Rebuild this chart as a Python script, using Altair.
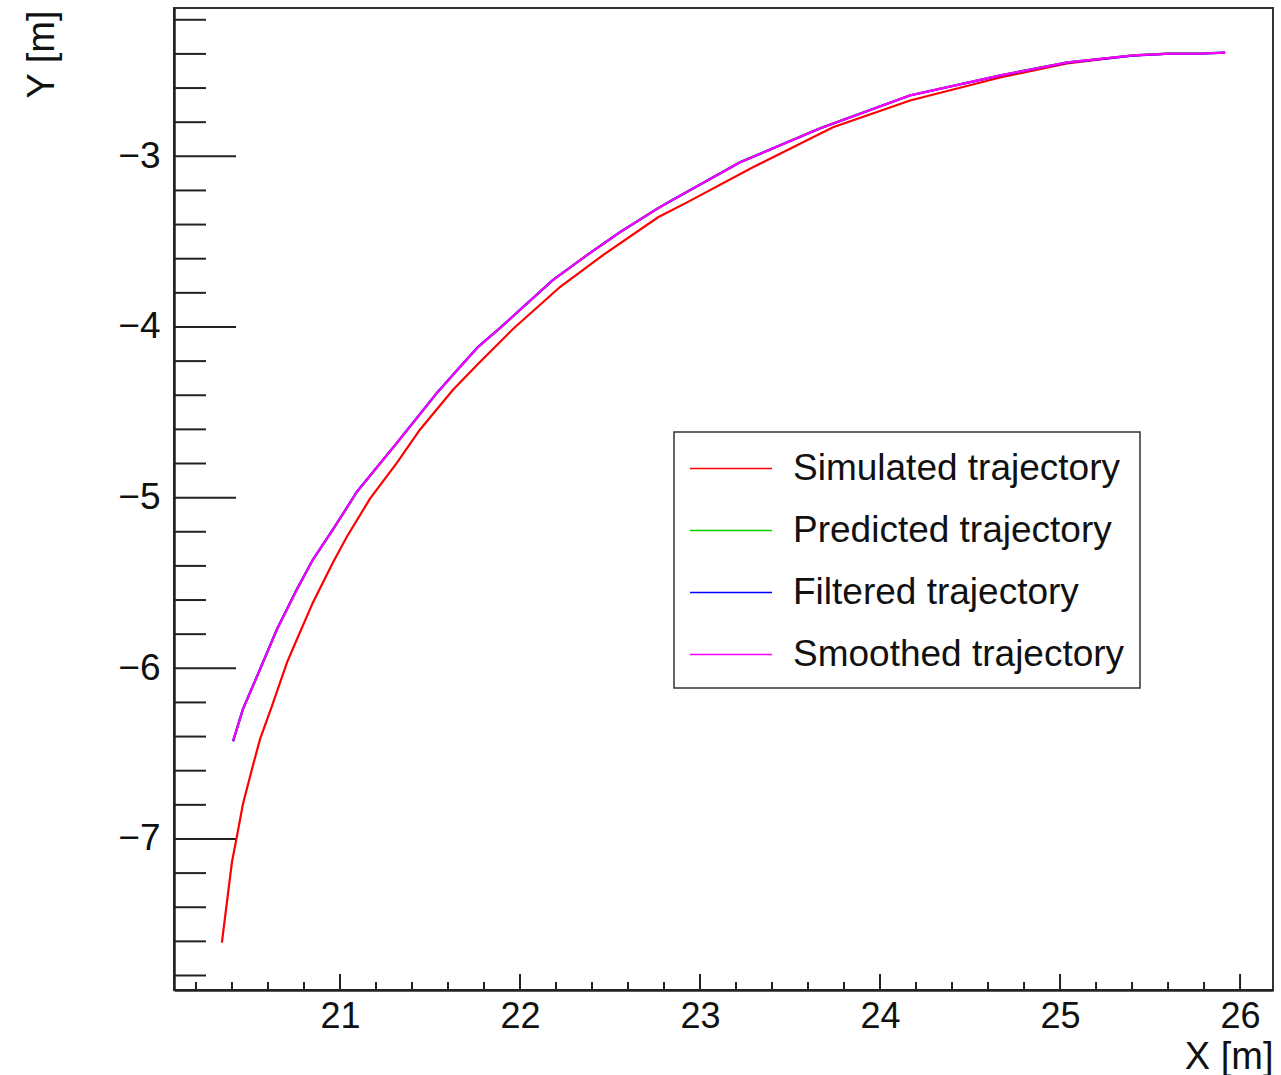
import altair as alt
import pandas as pd

# ---- data ----
sim_x = [20.344, 20.400, 20.428, 20.461, 20.511, 20.556, 20.622, 20.706, 20.761, 20.850,
         20.961, 21.039, 21.167, 21.317, 21.444, 21.628, 21.772, 21.961, 22.222, 22.461,
         22.767, 22.928, 23.294, 23.739, 24.167, 24.667, 25.039, 25.406, 25.611]
sim_y = [-7.608, -7.135, -6.982, -6.795, -6.591, -6.415, -6.222, -5.965, -5.830, -5.614,
         -5.380, -5.228, -5.006, -4.795, -4.602, -4.368, -4.211, -4.012, -3.766, -3.579,
         -3.357, -3.270, -3.064, -2.830, -2.673, -2.538, -2.456, -2.409, -2.398]

smo_x = [20.406, 20.461, 20.556, 20.650, 20.761, 20.850, 20.961, 21.056, 21.094, 21.317,
         21.539, 21.667, 21.767, 21.889, 22.183, 22.372, 22.556, 22.767, 22.833, 23.222,
         23.667, 24.167, 24.667, 25.039, 25.406, 25.611, 25.778, 25.917]
smo_y = [-6.427, -6.240, -6.006, -5.772, -5.538, -5.363, -5.187, -5.030, -4.966, -4.678,
         -4.386, -4.234, -4.117, -4.006, -3.725, -3.579, -3.444, -3.304, -3.264, -3.035,
         -2.836, -2.643, -2.526, -2.450, -2.409, -2.398, -2.398, -2.392]

pred_x = [20.406, 20.462, 20.557, 20.651, 20.760, 20.851, 20.962, 21.057, 21.095, 21.318,
          21.540, 21.668, 21.768, 21.890, 22.184, 22.373, 22.557, 22.768, 22.834, 23.223,
          23.668, 24.168, 24.668, 25.040, 25.407, 25.612, 25.779, 25.917]
pred_y = [-6.427, -6.238, -6.005, -5.770, -5.537, -5.362, -5.186, -5.029, -4.965, -4.677,
          -4.385, -4.233, -4.116, -4.005, -3.724, -3.578, -3.443, -3.303, -3.263, -3.034,
          -2.835, -2.642, -2.525, -2.449, -2.408, -2.397, -2.397, -2.392]

filt_x = [20.406, 20.460, 20.555, 20.649, 20.760, 20.849, 20.960, 21.055, 21.093, 21.316,
          21.538, 21.666, 21.766, 21.888, 22.182, 22.371, 22.555, 22.766, 22.832, 23.221,
          23.666, 24.166, 24.666, 25.038, 25.405, 25.610, 25.777, 25.917]
filt_y = [-6.428, -6.241, -6.007, -5.773, -5.539, -5.364, -5.188, -5.031, -4.967, -4.679,
          -4.387, -4.235, -4.118, -4.007, -3.726, -3.580, -3.445, -3.305, -3.265, -3.036,
          -2.837, -2.644, -2.527, -2.451, -2.410, -2.399, -2.399, -2.392]

series_names = ["Simulated trajectory", "Predicted trajectory",
                "Filtered trajectory", "Smoothed trajectory"]
series_colors = ["#ff0000", "#00d000", "#0000ff", "#ff00ff"]

x_major = [21, 22, 23, 24, 25, 26]
x_minor = [20.2, 20.4, 20.6, 20.8, 21.2, 21.4, 21.6, 21.8, 22.2, 22.4, 22.6, 22.8,
           23.2, 23.4, 23.6, 23.8, 24.2, 24.4, 24.6, 24.8, 25.2, 25.4, 25.6, 25.8]
y_major = [-7, -6, -5, -4, -3]
y_minor = [-7.8, -7.6, -7.4, -7.2, -6.8, -6.6, -6.4, -6.2, -5.8, -5.6, -5.4, -5.2,
           -4.8, -4.6, -4.4, -4.2, -3.8, -3.6, -3.4, -3.2, -2.8, -2.6, -2.4, -2.2]

# ---- build tables ----
rows = []
for name, xs, ys in [(series_names[0], sim_x, sim_y), (series_names[1], pred_x, pred_y),
                     (series_names[2], filt_x, filt_y), (series_names[3], smo_x, smo_y)]:
    for i, (a, b) in enumerate(zip(xs, ys)):
        rows.append({"series": name, "x": a, "y": b, "i": i})
df = pd.DataFrame(rows)

W, H = 1099, 982
FONT = "Liberation Sans"
xscale = alt.Scale(domain=[20.078, 26.183], nice=False, zero=False)
yscale = alt.Scale(domain=[-7.885, -2.131], nice=False, zero=False)

lines = alt.Chart(df).mark_line(strokeWidth=2.2, clip=True).encode(
    x=alt.X("x:Q", scale=xscale,
            axis=alt.Axis(values=x_major, format="d", tickSize=0, labelFontSize=36,
                          labelPadding=9, labelFont=FONT, labelColor="#111",
                          domainWidth=2.5, domainColor="#222", grid=False,
                          title="X [m]", titleFont=FONT, titleFontSize=38,
                          titleFontWeight="normal", titleColor="#111",
                          titleX=W, titleY=78, titleAlign="right",
                          titleBaseline="alphabetic")),
    y=alt.Y("y:Q", scale=yscale,
            axis=alt.Axis(values=y_major, format="d", tickSize=0, labelFontSize=37,
                          labelPadding=14, labelFont=FONT, labelColor="#111",
                          domainWidth=2.5, domainColor="#222", grid=False,
                          title="Y [m]", titleFont=FONT, titleFontSize=38,
                          titleFontWeight="normal", titleColor="#111",
                          titleX=-132, titleY=2, titleAngle=270, titleAlign="right",
                          titleBaseline="middle")),
    color=alt.Color("series:N",
                    scale=alt.Scale(domain=series_names, range=series_colors),
                    legend=alt.Legend(title=None)),
    order="i:Q",
)

xmaj = alt.Chart(pd.DataFrame({"v": x_major})).mark_rule(color="#222", strokeWidth=2).encode(
    x=alt.X("v:Q", scale=xscale, axis=None), y=alt.value(H), y2=alt.value(H - 16))
xmin = alt.Chart(pd.DataFrame({"v": x_minor})).mark_rule(color="#222", strokeWidth=2).encode(
    x=alt.X("v:Q", scale=xscale, axis=None), y=alt.value(H), y2=alt.value(H - 8))
ymaj = alt.Chart(pd.DataFrame({"v": y_major})).mark_rule(color="#222", strokeWidth=2).encode(
    y=alt.Y("v:Q", scale=yscale, axis=None), x=alt.value(0), x2=alt.value(62))
ymin = alt.Chart(pd.DataFrame({"v": y_minor})).mark_rule(color="#222", strokeWidth=2).encode(
    y=alt.Y("v:Q", scale=yscale, axis=None), x=alt.value(0), x2=alt.value(32))

chart = alt.layer(xmin, xmaj, ymin, ymaj, lines).resolve_axis(
    x="independent", y="independent"
).properties(
    width=W, height=H,
    autosize=alt.AutoSizeParams(type="none"),
    padding={"left": 174, "top": 8, "right": 8, "bottom": 85},
    background="white",
).configure_view(
    stroke="#333", strokeWidth=2
).configure_legend(
    orient="none", legendX=500, legendY=424,
    strokeColor="#333", strokeWidth=1.5, fillColor="white",
    padding=15, labelFontSize=37, labelFont=FONT, labelColor="#111",
    labelLimit=0, symbolType="M-1,0H3", symbolSize=1681, symbolStrokeWidth=1.5,
    labelOffset=61, rowPadding=22, cornerRadius=0,
)

chart.save("out.html", embed_options={"renderer": "svg", "actions": False})
